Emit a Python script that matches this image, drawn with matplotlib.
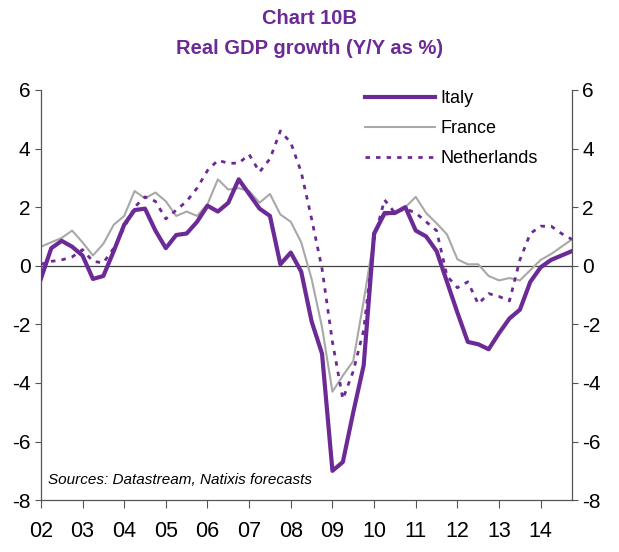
import matplotlib
matplotlib.use('Agg')
import matplotlib.pyplot as plt
import numpy as np

# quarterly Y/Y real GDP growth, 2002Q1 .. 2014Q4
years = ['02', '03', '04', '05', '06', '07', '08', '09', '10', '11', '12', '13', '14']
italy = [-0.45, 0.6, 0.85, 0.65, 0.35, -0.45, -0.35, 0.5, 1.4, 1.9, 1.95, 1.2, 0.6,
         1.05, 1.1, 1.5, 2.05, 1.85, 2.15, 2.95, 2.45, 1.95, 1.7, 0.05, 0.45, -0.2,
         -1.9, -3.0, -7.0, -6.7, -5.0, -3.4, 1.1, 1.8, 1.8, 2.0, 1.2, 1.0, 0.5, -0.55,
         -1.6, -2.6, -2.68, -2.85, -2.3, -1.8, -1.5, -0.55, -0.05, 0.2, 0.35, 0.5]
france = [0.65, 0.8, 0.95, 1.2, 0.8, 0.35, 0.75, 1.4, 1.7, 2.55, 2.3, 2.5, 2.2,
          1.7, 1.85, 1.7, 2.1, 2.95, 2.6, 2.65, 2.55, 2.15, 2.45, 1.75, 1.5, 0.8,
          -0.45, -2.1, -4.3, -3.75, -3.25, -1.2, 1.0, 1.7, 1.85, 2.0, 2.35, 1.8, 1.45,
          1.07, 0.22, 0.05, 0.05, -0.35, -0.5, -0.42, -0.5, -0.15, 0.2, 0.4, 0.65, 0.9]
netherlands = [0.05, 0.15, 0.2, 0.3, 0.55, 0.15, 0.1, 0.6, 1.3, 2.0, 2.35, 2.2, 1.6,
               1.9, 2.2, 2.65, 3.25, 3.6, 3.5, 3.5, 3.8, 3.2, 3.65, 4.6, 4.2, 3.2,
               1.6, -0.1, -2.6, -4.55, -3.6, -2.2, 0.9, 2.25, 1.8, 1.95, 1.8, 1.5, 1.2,
               -0.35, -0.75, -0.55, -1.3, -0.95, -1.05, -1.2, 0.2, 1.1, 1.35, 1.35, 1.1, 0.9]

purple = '#6C2A96'
grey = '#A8A8A8'
plt.rcParams['font.family'] = ['Liberation Sans', 'DejaVu Sans']
plt.rcParams['axes.unicode_minus'] = False

fig = plt.figure(figsize=(6.19, 5.52), dpi=100)
ax = fig.add_axes([0.066, 0.094, 0.858, 0.743])

q = np.arange(len(italy))
ax.axhline(0, color='#404040', lw=0.9, zorder=1)
ax.plot(q, france, color=grey, lw=1.5, label='France', zorder=2)
ax.plot(q, netherlands, color=purple, lw=2.0, ls=(0, (1.6, 2.2)), label='Netherlands', zorder=3)
ax.plot(q, italy, color=purple, lw=3.0, label='Italy', zorder=4)

ax.set_xlim(0, len(italy) - 1)
ax.set_ylim(-8, 6)
ax.set_xticks(np.arange(0, len(italy), 4))
ax.set_xticklabels(years, fontsize=15.5)
ax.set_yticks(np.arange(-8, 7, 2))
ax.tick_params(axis='y', right=True, labelright=True, labelsize=15, length=4,
               color='#555555', direction='out')
ax.tick_params(axis='x', length=6, color='#555555', pad=9)
ax.spines['top'].set_visible(False)
for s in ['left', 'right', 'bottom']:
    ax.spines[s].set_color('#555555')
    ax.spines[s].set_linewidth(0.9)

h, l = ax.get_legend_handles_labels()
order = [2, 0, 1]
ax.legend([h[i] for i in order], [l[i] for i in order], loc='upper left',
          bbox_to_anchor=(0.61, 1.0), borderaxespad=0, borderpad=0,
          frameon=False, fontsize=13, handlelength=3.9, labelspacing=0.72,
          handletextpad=0.3)

ax.text(0.013, 0.04, 'Sources: Datastream, Natixis forecasts', transform=ax.transAxes,
        fontsize=11, style='italic')

fig.text(0.5, 0.967, 'Chart 10B', ha='center', va='center', fontsize=14.5,
         fontweight='bold', color=purple)
fig.text(0.5, 0.912, 'Real GDP growth (Y/Y as %)', ha='center', va='center',
         fontsize=14.5, fontweight='bold', color=purple)

fig.savefig('out.png', dpi=100)
